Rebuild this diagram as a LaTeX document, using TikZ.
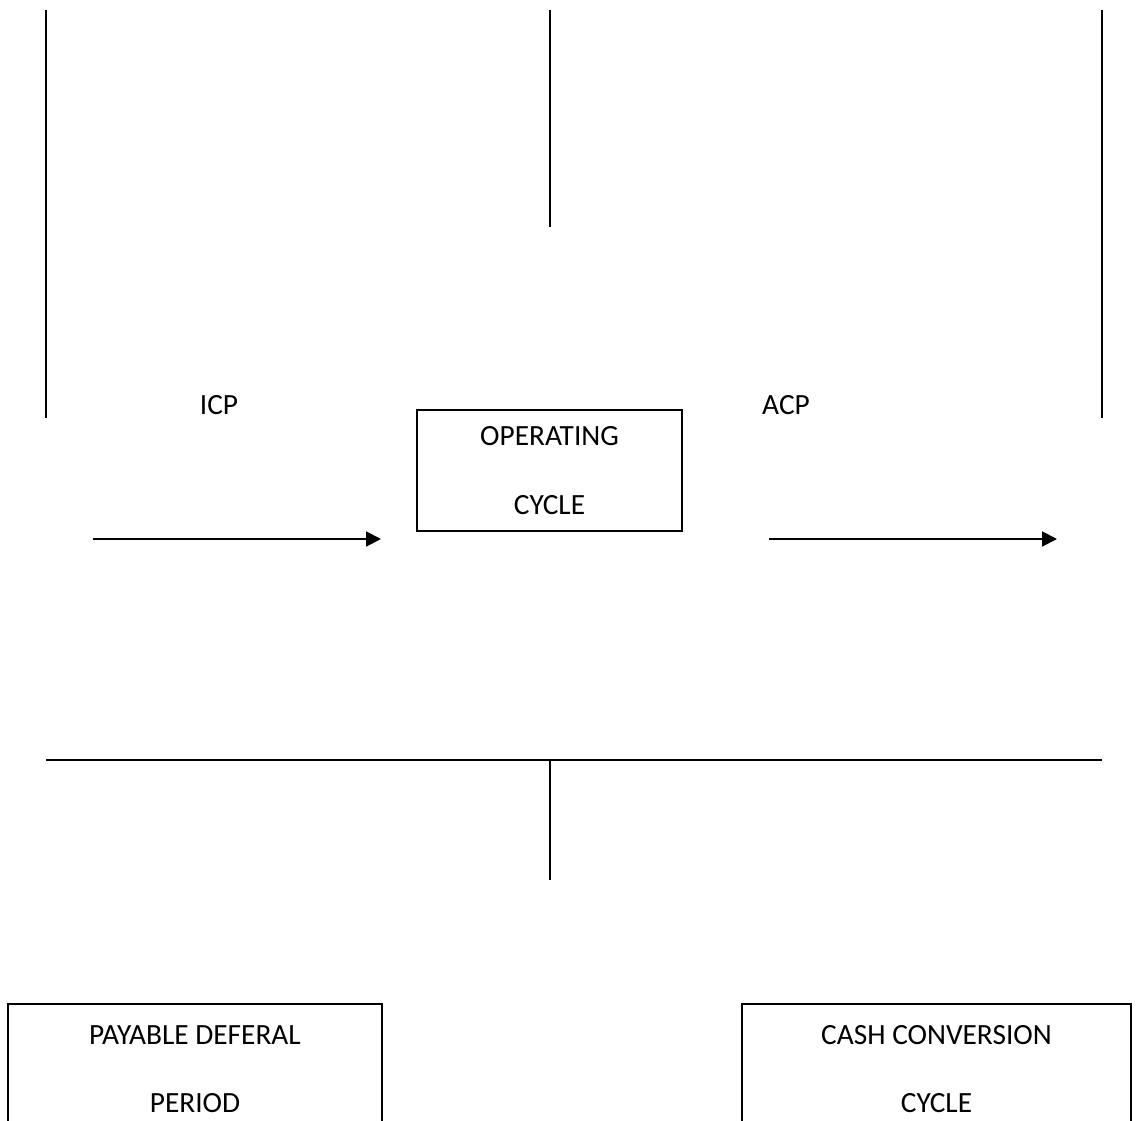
\documentclass[tikz,border=0pt]{standalone}
\usepackage{fontspec}
\setmainfont{Carlito}
\usetikzlibrary{arrows.meta}

\begin{document}
\begin{tikzpicture}[x=0.02cm, y=-0.02cm, line width=1.1pt,
  every node/.style = {font=\fontsize{16.7}{39}\selectfont},
  cyclebox/.style = {shape=rectangle, draw, align=center, inner sep=0pt},
  flow/.style = {-{Triangle[length=8.5pt,width=8.5pt]}}]
  \useasboundingbox (0,0) rectangle (1139,1121);
  \clip (0,0) rectangle (1139,1121);
  \coordinate (icptop) at (46,10);
  \coordinate (icpbot) at (46,418);
  \coordinate (midtop) at (550,10);
  \coordinate (midbot) at (550,227);
  \coordinate (acptop) at (1102,10);
  \coordinate (acpbot) at (1102,418);
  \coordinate (icpfrom) at (93,539);
  \coordinate (icpto) at (381,539);
  \coordinate (acpfrom) at (769,539);
  \coordinate (acpto) at (1057,539);
  \coordinate (barleft) at (46,760);
  \coordinate (barright) at (1102,760);
  \coordinate (barmid) at (550,760);
  \coordinate (stem) at (550,880);
  \node (icp) at (219,405) {ICP};
  \node (acp) at (786,405) {ACP};
  \node[cyclebox, minimum width=5.3cm, minimum height=2.42cm] (opcycle)
    at (549.5,470.5) {OPERATING\\CYCLE};
  \node[cyclebox, minimum width=7.48cm, minimum height=2.6cm] (payable)
    at (195,1069) {PAYABLE DEFERAL\\PERIOD};
  \node[cyclebox, minimum width=7.78cm, minimum height=2.6cm] (cashcycle)
    at (936.5,1069) {CASH CONVERSION\\CYCLE};
  \draw (icptop) -- (icpbot);
  \draw (midtop) -- (midbot);
  \draw (acptop) -- (acpbot);
  \draw[flow] (icpfrom) -- (icpto);
  \draw[flow] (acpfrom) -- (acpto);
  \draw[line width=1.4pt] (barleft) -- (barright);
  \draw (barmid) -- (stem);
\end{tikzpicture}
\end{document}
